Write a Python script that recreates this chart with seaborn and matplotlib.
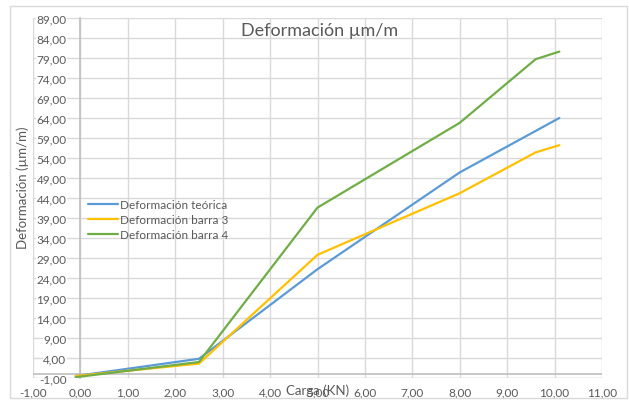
import matplotlib
matplotlib.use("Agg")
import matplotlib.pyplot as plt
import numpy as np
import pandas as pd
import seaborn as sns
from matplotlib.patches import Rectangle
from matplotlib.ticker import FuncFormatter

# Load (kN) and measured strain (µm/m) for each series
carga_teorica = [-0.1, 2.5, 5.0, 8.0, 10.1]
def_teorica = [-0.5, 3.8, 26.2, 50.4, 64.0]

carga_barra3 = [-0.1, 2.5, 5.0, 8.0, 9.6, 10.1]
def_barra3 = [-0.5, 2.6, 29.8, 45.2, 55.4, 57.2]

carga_barra4 = [-0.1, 2.5, 5.0, 8.0, 9.6, 10.1]
def_barra4 = [-0.8, 3.0, 41.6, 62.8, 78.7, 80.6]

series_names = ["Deformación teórica", "Deformación barra 3", "Deformación barra 4"]
series_colors = ["#5B9BD5", "#FFC000", "#70AD47"]

x_ticks = np.arange(-1, 12, 1)
y_ticks = np.arange(-1, 90, 5)

frames = []
for name, xs, ys in zip(series_names,
                        [carga_teorica, carga_barra3, carga_barra4],
                        [def_teorica, def_barra3, def_barra4]):
    frames.append(pd.DataFrame({"Carga": xs, "Deformacion": ys, "Serie": name}))
df = pd.concat(frames, ignore_index=True)

sns.set_theme(style="white")
plt.rcParams["font.family"] = ["Lato", "DejaVu Sans"]
text_color = "#595959"
grid_color = "#D9D9D9"
axis_color = "#BFBFBF"

W, H = 629, 402
fig = plt.figure(figsize=(W / 100, H / 100), dpi=100)
ax = fig.add_axes([33 / W, 1 - 379 / H, (602 - 33) / W, (379 - 19) / H])

sns.lineplot(data=df, x="Carga", y="Deformacion", hue="Serie",
             hue_order=series_names, palette=series_colors,
             sort=False, estimator=None, linewidth=1.6, ax=ax, zorder=5)

ax.set_xlim(-1, 11)
ax.set_ylim(-1, 89)
ax.set_xticks(x_ticks)
ax.set_yticks(y_ticks)
fmt = FuncFormatter(lambda v, p: f"{v:.2f}".replace(".", ","))
ax.xaxis.set_major_formatter(fmt)
ax.yaxis.set_major_formatter(fmt)

ax.grid(True, color=grid_color, linewidth=1.0)
ax.set_axisbelow(True)
for s in ["top", "right", "bottom"]:
    ax.spines[s].set_visible(False)
# vertical value axis crosses at x = 0
ax.spines["left"].set_position(("data", 0))
ax.spines["left"].set_color(axis_color)
ax.spines["left"].set_linewidth(1.2)
ax.axhline(0, color=axis_color, linewidth=1.2, zorder=1)
ax.axhline(-1, color=grid_color, linewidth=1.0, zorder=1)

ax.tick_params(axis="y", length=0, pad=10, labelsize=8.5, labelcolor=text_color)
ax.tick_params(axis="x", length=0, pad=6, labelsize=8.5, labelcolor=text_color)
for lbl in ax.get_yticklabels():
    lbl.set_bbox(dict(facecolor="white", edgecolor="none", pad=0.3))

ax.set_xlabel("")
ax.set_ylabel("")
fig.text(318 / W, 1 - 391 / H, "Carga (KN)", ha="center", va="center",
         fontsize=9.5, color=text_color)
fig.text(23 / W, 1 - 188 / H, "Deformación (µm/m)", ha="center", va="center",
         rotation=90, fontsize=9.5, color=text_color)
fig.text(320 / W, 1 - 31 / H, "Deformación µm/m", ha="center", va="center",
         fontsize=13, color=text_color)

leg = ax.legend(loc="upper left", bbox_to_anchor=(88 / W, 1 - 200 / H),
                bbox_transform=fig.transFigure, frameon=False, fontsize=8.5,
                handlelength=2.5, handletextpad=0.25, labelspacing=0.35,
                borderpad=0, borderaxespad=0)
for t in leg.get_texts():
    t.set_color(text_color)
for h in leg.get_lines():
    h.set_linewidth(1.6)

# light chart border
fig.patches.append(Rectangle((10 / W, 1 - 399 / H), (627 - 10) / W, (399 - 7) / H,
                             transform=fig.transFigure, fill=False,
                             edgecolor=grid_color, linewidth=1.0))

fig.savefig("out.png", dpi=100)
